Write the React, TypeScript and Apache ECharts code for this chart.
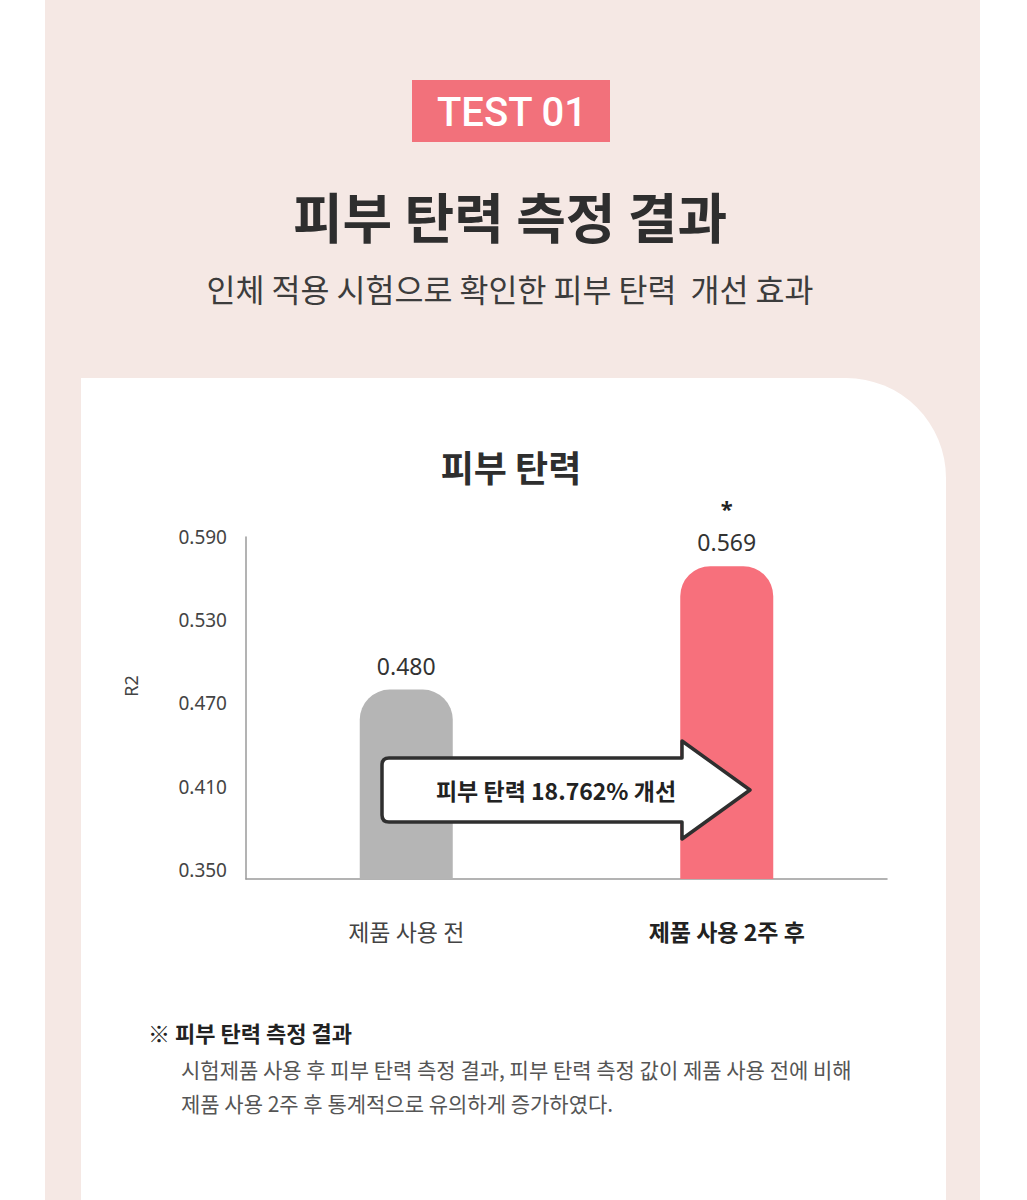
import React, { useEffect, useRef } from "react";
import * as echarts from "echarts";

// ---- data ----
const categories = ["제품 사용 전", "제품 사용 2주 후"];
const values = [0.48, 0.569];
const barColors = ["#b5b5b5", "#f7707c"];
const significance = ["", "*"];
const yTickValues = [0.35, 0.41, 0.47, 0.53, 0.59];
const yAxisName = "R2";
const chartTitle = "피부 탄력";
const badgeText = "TEST 01";
const mainTitle = "피부 탄력 측정 결과";
const subTitle = "인체 적용 시험으로 확인한 피부 탄력  개선 효과";
const improvementText = "피부 탄력 18.762% 개선";
const noteTitle = "※ 피부 탄력 측정 결과";
const noteLines = [
  "시험제품 사용 후 피부 탄력 측정 결과, 피부 탄력 측정 값이 제품 사용 전에 비해",
  "제품 사용 2주 후 통계적으로 유의하게 증가하였다.",
];

const KR = '"Noto Sans CJK KR", "Noto Sans", sans-serif';
const NUM = '"Noto Sans", "Noto Sans CJK KR", sans-serif';

echarts.graphic.registerShape(
  "improveArrow",
  echarts.graphic.extendPath(
    "M 389 758 L 682 758 L 682 741 L 750 790 L 682 839 L 682 822 L 389 822 Q 382 822 382 815 L 382 765 Q 382 758 389 758 Z",
    {}
  )
);

export default function App() {
  const ref = useRef<HTMLDivElement>(null);

  useEffect(() => {
    document.body.style.margin = "0";
    const chart = echarts.init(ref.current!, null, { renderer: "svg" });
    const option: any = {
      animation: false,
      backgroundColor: "#ffffff",
      grid: { left: 246, right: 140, top: 537, bottom: 321, containLabel: false },
      xAxis: {
        type: "category",
        data: categories,
        axisLine: { show: true, lineStyle: { color: "#9a9a9a", width: 1.5 } },
        axisTick: { show: false },
        axisLabel: {
          margin: 40,
          formatter: (v: string, i: number) => (i === 1 ? `{b|${v}}` : `{n|${v}}`),
          rich: {
            n: { fontFamily: KR, fontSize: 23, color: "#444", fontWeight: 400 },
            b: { fontFamily: KR, fontSize: 23, color: "#222", fontWeight: 700 },
          },
        },
      },
      yAxis: {
        type: "value",
        min: 0.3435,
        max: 0.59,
        axisLine: { show: true, lineStyle: { color: "#9a9a9a", width: 1.5 } },
        axisTick: { show: false },
        splitLine: { show: false },
        axisLabel: {
          customValues: yTickValues,
          formatter: (v: number) => v.toFixed(3),
          fontFamily: NUM,
          fontSize: 19,
          color: "#444",
          margin: 19,
        },
      },
      series: [
        {
          type: "bar",
          barWidth: 93,
          z: 3,
          data: values.map((v, i) => ({
            value: v,
            itemStyle: { color: barColors[i], borderRadius: [30, 30, 0, 0] },
            label: {
              show: true,
              position: "top",
              distance: 10,
              formatter: significance[i]
                ? `{s|${significance[i]}}\n{v|${v.toFixed(3)}}`
                : `{v|${v.toFixed(3)}}`,
              rich: {
                s: { fontFamily: NUM, fontSize: 22, fontWeight: 700, color: "#222", lineHeight: 40, align: "center" },
                v: { fontFamily: NUM, fontSize: 23, color: "#333", lineHeight: 28, align: "center" },
              },
            },
          })),
        },
      ],
      graphic: [
        {
          type: "rect",
          z: -20,
          silent: true,
          shape: { x: 45, y: 0, width: 935, height: 1200 },
          style: { fill: "#f5e8e4" },
        },
        {
          type: "rect",
          z: -10,
          silent: true,
          shape: { x: 81, y: 378, width: 865, height: 900, r: [0, 100, 0, 0] },
          style: { fill: "#ffffff" },
        },
        {
          type: "rect",
          z: -5,
          shape: { x: 412, y: 80, width: 198, height: 62 },
          style: { fill: "#f2717b" },
        },
        {
          type: "text",
          z: 10,
          x: 512,
          y: 112,
          style: {
            text: badgeText,
            fill: "#ffffff",
            font: `500 40px Roboto, "Noto Sans", sans-serif`,
            align: "center",
            verticalAlign: "middle",
          },
        },
        {
          type: "text",
          z: 10,
          x: 510,
          y: 215,
          style: {
            text: mainTitle,
            fill: "#2e2e2e",
            font: `700 54px ${KR}`,
            align: "center",
            verticalAlign: "middle",
          },
        },
        {
          type: "text",
          z: 10,
          x: 510,
          y: 288,
          style: {
            text: subTitle,
            fill: "#3c3c3c",
            font: `400 31.5px ${KR}`,
            align: "center",
            verticalAlign: "middle",
          },
        },
        {
          type: "text",
          z: 10,
          x: 511,
          y: 466,
          style: {
            text: chartTitle,
            fill: "#2e2e2e",
            font: `700 36px ${KR}`,
            align: "center",
            verticalAlign: "middle",
          },
        },
        {
          type: "text",
          z: 10,
          x: 131,
          y: 686,
          rotation: Math.PI / 2,
          style: {
            text: yAxisName,
            fill: "#444",
            font: `400 18px ${NUM}`,
            align: "center",
            verticalAlign: "middle",
          },
        },
        {
          type: "improveArrow",
          z: 50,
          x: 0,
          y: 0,
          style: { fill: "#ffffff", stroke: "#2f2f2f", lineWidth: 3.5, lineJoin: "round" },
        },
        {
          type: "text",
          z: 60,
          x: 556,
          y: 790,
          style: {
            text: improvementText,
            fill: "#222",
            font: `700 23px ${KR}`,
            align: "center",
            verticalAlign: "middle",
          },
        },
        {
          type: "text",
          z: 10,
          x: 148,
          y: 1032,
          style: {
            text: noteTitle,
            fill: "#222",
            font: `700 22px ${KR}`,
            align: "left",
            verticalAlign: "middle",
          },
        },
        ...noteLines.map((t, i) => ({
          type: "text",
          z: 10,
          x: 181,
          y: 1069 + i * 34,
          style: {
            text: t,
            fill: "#555",
            font: `400 21px ${KR}`,
            align: "left",
            verticalAlign: "middle",
          },
        })),
      ],
    };
    chart.setOption(option);
    return () => chart.dispose();
  }, []);

  return (
    <div
      ref={ref}
      style={{ position: "absolute", left: 0, top: 0, width: 1027, height: 1200 }}
    />
  );
}
